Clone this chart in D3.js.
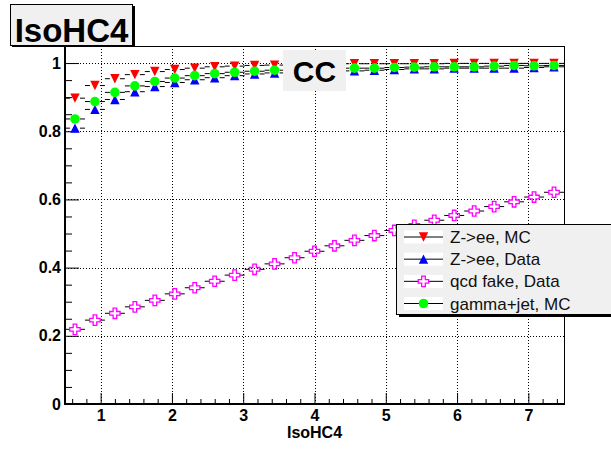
<!DOCTYPE html>
<html><head><meta charset="utf-8">
<script src="https://cdn.jsdelivr.net/npm/d3@7"></script>
<style>
html,body{margin:0;padding:0;background:#fff;}
svg{display:block;font-family:"Liberation Sans",Arial,Helvetica,sans-serif;}
</style></head>
<body><svg id="c" width="611" height="449"></svg>
<script>
// ---- data ----
const binCenters = [0.64,0.92,1.20,1.48,1.76,2.04,2.32,2.60,2.88,3.16,3.44,3.72,4.00,4.28,4.56,4.84,5.12,5.40,5.68,5.96,6.24,6.52,6.80,7.08,7.36];
const binHalfWidth = 0.14;
const zeeMC   = [0.897,0.934,0.954,0.966,0.975,0.981,0.985,0.989,0.991,0.993,0.994,0.995,0.996,0.997,0.998,0.998,0.998,0.998,0.998,0.999,0.999,0.999,0.999,0.999,0.999];
const zeeData = [0.809,0.864,0.893,0.916,0.931,0.943,0.951,0.957,0.963,0.968,0.971,0.973,0.975,0.976,0.977,0.979,0.981,0.983,0.983,0.985,0.985,0.985,0.985,0.987,0.989];
const qcdData = [0.219,0.246,0.266,0.285,0.304,0.323,0.341,0.360,0.378,0.395,0.411,0.429,0.448,0.464,0.480,0.494,0.509,0.524,0.539,0.553,0.566,0.579,0.593,0.607,0.621];
const gjetMC  = [0.836,0.887,0.914,0.933,0.946,0.956,0.963,0.969,0.973,0.976,0.979,0.981,0.983,0.984,0.985,0.985,0.987,0.988,0.989,0.989,0.989,0.991,0.993,0.992,0.993];
const seriesNames = ["Z->ee, MC","Z->ee, Data","qcd fake, Data","gamma+jet, MC"];
const xTicks = [1,2,3,4,5,6,7];
const yTicks = [0,0.2,0.4,0.6,0.8,1];
const yTickLabels = ["0","0.2","0.4","0.6","0.8","1"];
const xTitle = "IsoHC4";
const plotTitle = "IsoHC4";
const regionLabel = "CC";

// ---- layout ----
const L=65, R=564, T=46, B=404;
const svg = d3.select("#c");
const x = d3.scaleLinear().domain([0.5,7.5]).range([L,R]);
const y = d3.scaleLinear().domain([0,1.05]).range([B,T]);

svg.append("rect").attr("width",611).attr("height",449).attr("fill","#fff");

// grid
const grid = svg.append("g").attr("stroke","#000").attr("stroke-width",1).attr("stroke-dasharray","1,2");
grid.selectAll(".gx").data(xTicks).join("line")
  .attr("x1",d=>Math.round(x(d))+0.5).attr("x2",d=>Math.round(x(d))+0.5).attr("y1",T).attr("y2",B);
grid.selectAll(".gy").data(yTicks.filter(d=>d>0)).join("line")
  .attr("y1",d=>Math.round(y(d))+0.5).attr("y2",d=>Math.round(y(d))+0.5).attr("x1",L).attr("x2",R);

// frame top/right
svg.append("line").attr("x1",L).attr("x2",R).attr("y1",T+0.5).attr("y2",T+0.5).attr("stroke","#000");
svg.append("line").attr("x1",R+0.5).attr("x2",R+0.5).attr("y1",T).attr("y2",B).attr("stroke","#000");

// axes
const fontAx = "bold 16px 'Liberation Sans', Arial, sans-serif";
const yAxis = d3.axisLeft(y).tickValues(yTicks).tickFormat((d,i)=>yTickLabels[i]).tickSizeInner(-14).tickSizeOuter(0).tickPadding(4);
const yMinor = d3.axisLeft(y).tickValues(d3.range(0.05,1.05,0.05).filter(v=>Math.abs(v/0.2-Math.round(v/0.2))>0.01)).tickFormat("").tickSizeInner(-7).tickSizeOuter(0);
const xAxis = d3.axisBottom(x).tickValues(xTicks).tickFormat(d3.format("d")).tickSizeInner(-11).tickSizeOuter(0).tickPadding(6);
const xMinor = d3.axisBottom(x).tickValues(d3.range(0.6,7.5,0.2).filter(v=>Math.abs(v-Math.round(v))>0.01)).tickFormat("").tickSizeInner(-5).tickSizeOuter(0);

function styleAxis(g){
  g.select(".domain").remove();
  g.selectAll(".tick line").attr("stroke","#000").attr("stroke-width",1);
  g.selectAll("text").attr("fill","#000").style("font",fontAx);
}
svg.append("g").attr("transform",`translate(${L},0)`).call(yMinor).call(styleAxis);
svg.append("g").attr("transform",`translate(${L},0)`).call(yAxis).call(styleAxis);
svg.append("g").attr("transform",`translate(0,${B})`).call(xMinor).call(styleAxis);
svg.append("g").attr("transform",`translate(0,${B})`).call(xAxis).call(styleAxis);
// thick axis lines
svg.append("line").attr("x1",L).attr("x2",L).attr("y1",T).attr("y2",B+1).attr("stroke","#000").attr("stroke-width",2);
svg.append("line").attr("x1",L).attr("x2",R+1).attr("y1",B).attr("y2",B).attr("stroke","#000").attr("stroke-width",2);

// axis title
svg.append("text").attr("x",x(4)).attr("y",438).attr("text-anchor","middle")
  .style("font","bold 16px 'Liberation Sans', Arial, sans-serif").text(xTitle);

// markers
const S=4.7;
const markerPath = {
  down: `M${-S},${-S}L${S},${-S}L0,${S}Z`,
  up: `M${-S},${S}L${S},${S}L0,${-S}Z`,
  circle: null,
  cross: (()=>{const h=5.2,a=1.8;return `M${-a},${-h}H${a}V${-a}H${h}V${a}H${a}V${h}H${-a}V${a}H${-h}V${-a}H${-a}Z`;})()
};
const series = [
  {vals:zeeMC, color:"#ff0000", shape:"down"},
  {vals:zeeData, color:"#0000ff", shape:"up"},
  {vals:qcdData, color:"#ff00ff", shape:"cross"},
  {vals:gjetMC, color:"#00ff00", shape:"circle"}
];
function drawMarker(g, shape, color){
  if(shape==="circle") g.append("circle").attr("r",4.8).attr("fill",color);
  else if(shape==="cross") g.append("path").attr("d",markerPath.cross).attr("fill","none").attr("stroke",color).attr("stroke-width",1.3);
  else g.append("path").attr("d",markerPath[shape]).attr("fill",color);
}
const gap = 5;
series.forEach(s=>{
  const g = svg.append("g");
  s.vals.forEach((v,i)=>{
    const cx = x(binCenters[i]), cy = y(v);
    const xl = x(binCenters[i]-binHalfWidth), xr = x(binCenters[i]+binHalfWidth);
    g.append("line").attr("x1",xl).attr("x2",cx-gap).attr("y1",cy).attr("y2",cy).attr("stroke","#000");
    g.append("line").attr("x1",cx+gap).attr("x2",xr).attr("y1",cy).attr("y2",cy).attr("stroke","#000");
    const m = g.append("g").attr("transform",`translate(${cx},${cy})`);
    drawMarker(m, s.shape, s.color);
  });
});

// CC label
svg.append("rect").attr("x",283).attr("y",50).attr("width",63).attr("height",41).attr("fill","#f0f0f0");
svg.append("text").attr("x",314.5).attr("y",82).attr("text-anchor","middle")
  .style("font","bold 30px 'Liberation Sans', Arial, sans-serif").text(regionLabel);

// title box
svg.append("rect").attr("x",12).attr("y",6).attr("width",123).attr("height",41).attr("fill","#000");
svg.append("rect").attr("x",10.5).attr("y",4.5).attr("width",122).attr("height",41).attr("fill","#f0f0f0").attr("stroke","#000").attr("stroke-width",1);
svg.append("text").attr("x",71.5).attr("y",42).attr("text-anchor","middle")
  .style("font","bold 33px 'Liberation Sans', Arial, sans-serif").text(plotTitle);

// legend
const lg = svg.append("g");
lg.append("rect").attr("x",399).attr("y",227).attr("width",230).attr("height",90).attr("fill","#000");
lg.append("rect").attr("x",396.5).attr("y",224.5).attr("width",230).attr("height",90).attr("fill","#f0f0f0").attr("stroke","#000");
const rowY = d3.scaleLinear().domain([0,3]).range([237,303.5]);
series.forEach((s,i)=>{
  const ry = rowY(i);
  lg.append("rect").attr("x",404).attr("y",ry-6.5).attr("width",39).attr("height",13).attr("fill","#fff");
  lg.append("line").attr("x1",404).attr("x2",443).attr("y1",ry).attr("y2",ry).attr("stroke","#000");
  const m = lg.append("g").attr("transform",`translate(423.5,${ry})`);
  if(s.shape==="cross") m.append("path").attr("d",markerPath.cross).attr("fill","#fff").attr("stroke",s.color).attr("stroke-width",1.3);
  else drawMarker(m, s.shape, s.color);
  lg.append("text").attr("x",450).attr("y",ry+6).style("font","17px 'Liberation Sans', Arial, sans-serif").attr("fill","#111").text(seriesNames[i]);
});
</script></body></html>
